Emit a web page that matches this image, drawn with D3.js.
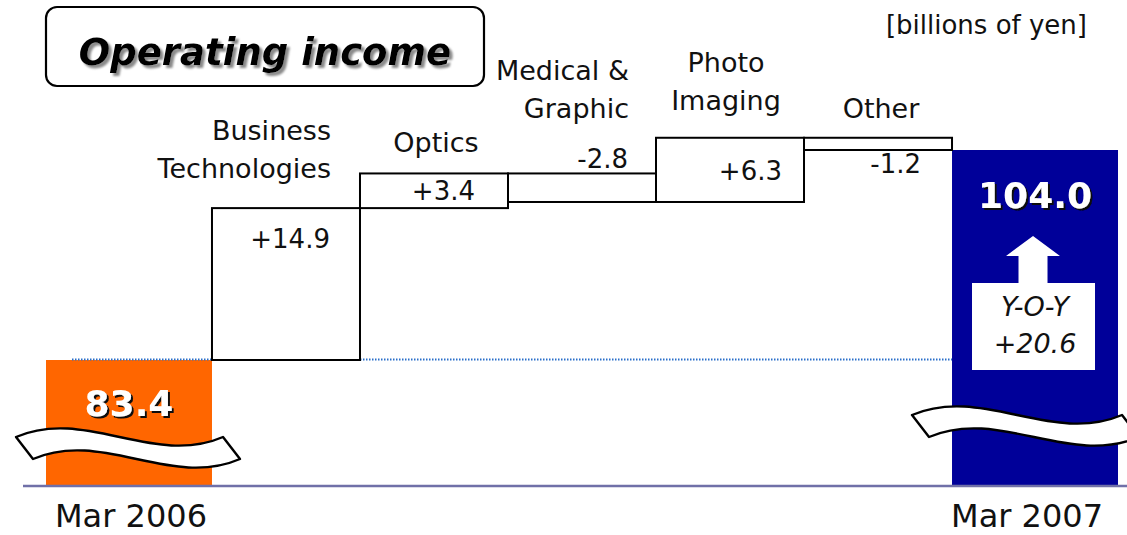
<!DOCTYPE html>
<html>
<head>
<meta charset="utf-8">
<script src="https://cdn.jsdelivr.net/npm/d3@7"></script>
<style>
  body { margin: 0; background: #fff; }
  svg { display: block; }
  text { font-family: "DejaVu Sans", Verdana, sans-serif; }
</style>
</head>
<body>
<svg id="chart" width="1127" height="535"></svg>
<script>
// ---- data (billions of yen) ----
const chartTitle = "Operating income";
const unitLabel = "[billions of yen]";
const periods = ["Mar 2006", "Mar 2007"];
const periodValues = [83.4, 104.0];
const segments = ["Business Technologies", "Optics", "Medical & Graphic", "Photo Imaging", "Other"];
const segmentLines = [["Business", "Technologies"], ["Optics"], ["Medical &", "Graphic"], ["Photo", "Imaging"], ["Other"]];
const segmentChanges = [14.9, 3.4, -2.8, 6.3, -1.2];
const yoyLabel = "Y-O-Y";
const yoyChange = 20.6;

// ---- layout ----
const W = 1127, H = 535;
const baseY = 485;            // broken axis: bars rest on this line
const svg = d3.select("#chart");

const fmtSigned = v => (v >= 0 ? "+" : "-") + Math.abs(v).toFixed(1);

// drop shadows for the title and the period values
const defs = svg.append("defs");
defs.append("filter").attr("id", "titleShadow")
  .attr("x", "-5%").attr("y", "-20%").attr("width", "115%").attr("height", "150%")
  .append("feDropShadow").attr("dx", 3).attr("dy", 3).attr("stdDeviation", 0.9)
  .attr("flood-color", "#8a8a8a").attr("flood-opacity", 1);
defs.append("filter").attr("id", "valueShadow")
  .attr("x", "-10%").attr("y", "-20%").attr("width", "125%").attr("height", "150%")
  .append("feDropShadow").attr("dx", 2).attr("dy", 2).attr("stdDeviation", 0.4)
  .attr("flood-color", "#111").attr("flood-opacity", 1);

// running totals for the waterfall steps
const steps = [];
let level = periodValues[0];
segments.forEach((s, i) => {
  const from = level, to = Math.round((level + segmentChanges[i]) * 10) / 10;
  steps.push({ name: s, lines: segmentLines[i], change: segmentChanges[i], from, to });
  level = to;
});

// x scales: the two period bars at the ends, the segment steps in between
const xEnds = d3.scaleBand().domain(periods).range([46, 1118]).paddingInner(0.8168);
const xSeg = d3.scaleBand().domain(segments)
  .range([xEnds(periods[0]) + xEnds.bandwidth(), xEnds(periods[1])]);

// y scale (axis is broken below the bars)
const y = d3.scaleLinear().domain(periodValues).range([360, 150]);

// ---- title box ----
svg.append("rect")
  .attr("x", 46).attr("y", 7).attr("width", 438).attr("height", 79)
  .attr("rx", 11).attr("fill", "#fff").attr("stroke", "#000").attr("stroke-width", 2.2);
svg.append("text").attr("x", 265).attr("y", 65)
  .attr("font-size", 37).attr("font-weight", "bold").attr("font-style", "italic")
  .attr("text-anchor", "middle").attr("fill", "#000")
  .attr("filter", "url(#titleShadow)")
  .text(chartTitle);

// unit label
svg.append("text").attr("x", 1087).attr("y", 34).attr("text-anchor", "end")
  .attr("font-size", 26).attr("fill", "#111").text(unitLabel);

// ---- period bars ----
const periodColors = ["#ff6600", "#000099"];
svg.selectAll("rect.period").data(periods).join("rect")
  .attr("class", "period")
  .attr("x", d => xEnds(d))
  .attr("width", xEnds.bandwidth())
  .attr("y", (d, i) => y(periodValues[i]))
  .attr("height", (d, i) => baseY - y(periodValues[i]))
  .attr("fill", (d, i) => periodColors[i]);

// dotted reference line at the starting level
svg.append("line")
  .attr("x1", xEnds(periods[0]) + 26).attr("x2", xEnds(periods[1]))
  .attr("y1", y(periodValues[0]) - 0.5).attr("y2", y(periodValues[0]) - 0.5)
  .attr("stroke", "#2a6fc9").attr("stroke-width", 1.8).attr("stroke-dasharray", "1.5,1.5");

// ---- waterfall steps ----
svg.selectAll("rect.step").data(steps).join("rect")
  .attr("class", "step")
  .attr("x", d => xSeg(d.name))
  .attr("width", xSeg.bandwidth())
  .attr("y", d => y(Math.max(d.from, d.to)))
  .attr("height", d => Math.abs(y(d.from) - y(d.to)))
  .attr("fill", "#fff").attr("stroke", "#000").attr("stroke-width", 2);

// category names: anchor, x offset from band reference, baselines
const nameLayout = {
  "Business Technologies": { anchor: "end", ref: "right", dx: -29, ys: [140, 178] },
  "Optics": { anchor: "middle", ref: "center", dx: 2, ys: [152] },
  "Medical & Graphic": { anchor: "end", ref: "right", dx: -27, ys: [80, 118] },
  "Photo Imaging": { anchor: "middle", ref: "center", dx: -4, ys: [72, 110] },
  "Other": { anchor: "middle", ref: "center", dx: 3, ys: [118] }
};
const refX = (name, ref) => ref === "right" ? xSeg(name) + xSeg.bandwidth()
  : ref === "center" ? xSeg(name) + xSeg.bandwidth() / 2 : xSeg(name);

const names = svg.append("g").attr("font-size", 27).attr("fill", "#111");
steps.forEach(s => {
  const L = nameLayout[s.name];
  s.lines.forEach((line, j) => {
    names.append("text")
      .attr("x", refX(s.name, L.ref) + L.dx)
      .attr("y", L.ys[j])
      .attr("text-anchor", L.anchor)
      .text(line);
  });
});

// change values, placed against the step box
const valueLayout = {
  "Business Technologies": { dx: -30, edge: "top", dy: 40 },
  "Optics": { dx: -33, edge: "top", dy: 27 },
  "Medical & Graphic": { dx: -28, edge: "top", dy: -5 },
  "Photo Imaging": { dx: -22, edge: "top", dy: 42 },
  "Other": { dx: -31, edge: "bottom", dy: 23 }
};
svg.append("g").attr("font-size", 26).attr("fill", "#111").attr("text-anchor", "end")
  .selectAll("text").data(steps).join("text")
  .attr("x", d => xSeg(d.name) + xSeg.bandwidth() + valueLayout[d.name].dx)
  .attr("y", d => {
    const L = valueLayout[d.name];
    const yy = L.edge === "top" ? y(Math.max(d.from, d.to)) : y(Math.min(d.from, d.to));
    return yy + L.dy;
  })
  .text(d => fmtSigned(d.change));

// ---- axis break ribbons ----
function ribbon(x0, y0, w, amp, dx, dy) {
  const p = d3.path();
  p.moveTo(x0, y0);
  p.bezierCurveTo(x0 + w / 3, y0 - amp, x0 + 2 * w / 3, y0 + amp, x0 + w, y0);
  p.lineTo(x0 + w + dx, y0 + dy);
  p.bezierCurveTo(x0 + 2 * w / 3 + dx, y0 + amp + dy, x0 + w / 3 + dx, y0 - amp + dy, x0 + dx, y0 + dy);
  p.closePath();
  return p.toString();
}
const breaks = [
  { x0: xEnds(periods[0]) - 30, y0: 437, w: 207 },
  { x0: xEnds(periods[1]) - 40, y0: 415, w: 210 }
];
svg.selectAll("path.break").data(breaks).join("path")
  .attr("class", "break")
  .attr("d", d => ribbon(d.x0, d.y0, d.w, 30, 17, 22))
  .attr("fill", "#fff").attr("stroke", "#000").attr("stroke-width", 2.4)
  .attr("stroke-linejoin", "round");

// ---- period value labels (white with dark drop shadow) ----
const valueY = [416, 208];
periods.forEach((p, i) => {
  svg.append("text")
    .attr("x", xEnds(p) + xEnds.bandwidth() / 2).attr("y", valueY[i])
    .attr("font-size", 36).attr("font-weight", "bold").attr("text-anchor", "middle")
    .attr("fill", "#fff").attr("filter", "url(#valueShadow)")
    .text(periodValues[i].toFixed(1));
});

// ---- year-on-year arrow and box inside the Mar 2007 bar ----
const cx2 = xEnds(periods[1]) + xEnds.bandwidth() / 2 - 2;
const arrow = d3.path();
arrow.moveTo(cx2, 236);
arrow.lineTo(cx2 + 27, 256);
arrow.lineTo(cx2 + 14.5, 256);
arrow.lineTo(cx2 + 14.5, 284);
arrow.lineTo(cx2 - 14.5, 284);
arrow.lineTo(cx2 - 14.5, 256);
arrow.lineTo(cx2 - 27, 256);
arrow.closePath();
svg.append("path").attr("d", arrow.toString()).attr("fill", "#fff");
svg.append("rect").attr("x", cx2 - 61).attr("y", 283).attr("width", 123).attr("height", 87).attr("fill", "#fff");
const yoy = svg.append("g").attr("font-size", 27).attr("font-style", "italic")
  .attr("text-anchor", "middle").attr("fill", "#111");
yoy.append("text").attr("x", cx2 + 2).attr("y", 316).text(yoyLabel);
yoy.append("text").attr("x", cx2 + 2).attr("y", 353).text(fmtSigned(yoyChange));

// ---- baseline and period axis ----
svg.append("line").attr("x1", 23).attr("x2", W).attr("y1", baseY + 1).attr("y2", baseY + 1)
  .attr("stroke", "#7070a8").attr("stroke-width", 2.5);

const axis = d3.axisBottom(xEnds).tickSize(0).tickPadding(18);
const axG = svg.append("g").attr("transform", `translate(0,${baseY + 1})`).call(axis);
axG.select(".domain").remove();
axG.selectAll("text").attr("font-size", 32).attr("fill", "#111")
  .attr("font-family", "\"DejaVu Sans\", Verdana, sans-serif")
  .attr("dx", (d, i) => i === 1 ? -8 : 2);
</script>
</body>
</html>
